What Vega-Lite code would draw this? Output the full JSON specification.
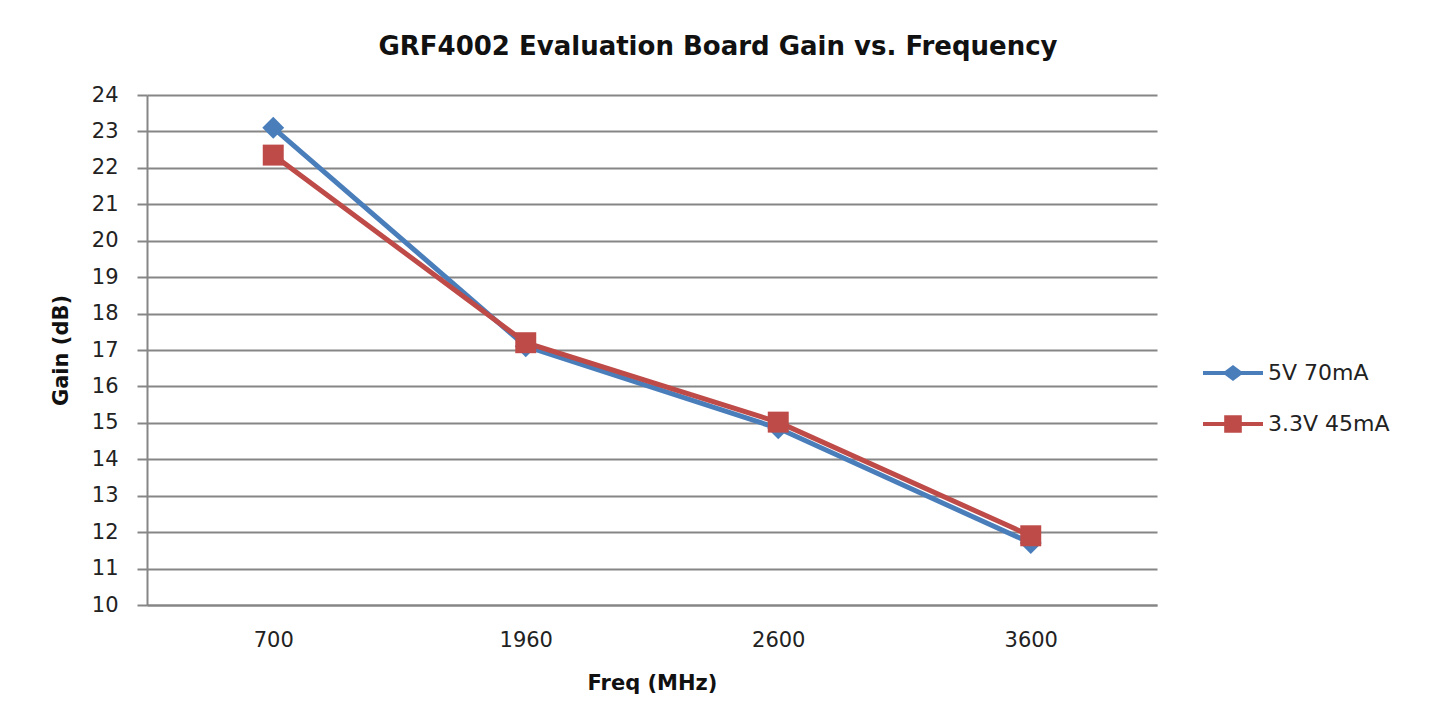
{
  "$schema": "https://vega.github.io/schema/vega-lite/v6.json",
  "width": 1010,
  "height": 510,
  "autosize": {"type": "none"},
  "padding": {"left": 147, "top": 95, "right": 280, "bottom": 123},
  "background": "white",
  "config": {
    "view": {"stroke": null},
    "font": "DejaVu Sans"
  },
  "title": {
    "text": "GRF4002 Evaluation Board Gain vs. Frequency",
    "font": "DejaVu Sans",
    "fontSize": 26,
    "fontWeight": "bold",
    "color": "#111111",
    "anchor": "middle",
    "dx": 66,
    "dy": 12,
    "offset": 36
  },
  "data": {
    "values": [
      {"freq": "700", "series": "5V 70mA", "gain": 23.1},
      {"freq": "1960", "series": "5V 70mA", "gain": 17.1},
      {"freq": "2600", "series": "5V 70mA", "gain": 14.85},
      {"freq": "3600", "series": "5V 70mA", "gain": 11.7},
      {"freq": "700", "series": "3.3V 45mA", "gain": 22.35},
      {"freq": "1960", "series": "3.3V 45mA", "gain": 17.2},
      {"freq": "2600", "series": "3.3V 45mA", "gain": 15.02},
      {"freq": "3600", "series": "3.3V 45mA", "gain": 11.9}
    ]
  },
  "encoding": {
    "x": {
      "field": "freq",
      "type": "ordinal",
      "sort": ["700", "1960", "2600", "3600"],
      "scale": {"type": "point", "padding": 0.5},
      "axis": {
        "title": "Freq (MHz)",
        "titleFont": "DejaVu Sans",
        "titleFontSize": 21,
        "titleFontWeight": "bold",
        "titleColor": "#111111",
        "titlePadding": 22,
        "labelFont": "DejaVu Sans",
        "labelFontSize": 21,
        "labelColor": "#222222",
        "labelAngle": 0,
        "labelPadding": 24,
        "ticks": false,
        "domain": true,
        "domainColor": "#868686",
        "domainWidth": 2,
        "grid": false
      }
    },
    "y": {
      "field": "gain",
      "type": "quantitative",
      "scale": {"domain": [10, 24], "nice": false, "zero": false},
      "axis": {
        "title": "Gain (dB)",
        "titleFont": "DejaVu Sans",
        "titleFontSize": 21,
        "titleFontWeight": "bold",
        "titleColor": "#111111",
        "titlePadding": 20,
        "labelFont": "DejaVu Sans",
        "labelFontSize": 21,
        "labelColor": "#222222",
        "labelPadding": 19,
        "labelOverlap": false,
        "values": [10, 11, 12, 13, 14, 15, 16, 17, 18, 19, 20, 21, 22, 23, 24],
        "tickSize": 10,
        "tickColor": "#868686",
        "tickWidth": 2,
        "domainColor": "#868686",
        "domainWidth": 2,
        "gridColor": "#868686",
        "gridWidth": 2,
        "gridOpacity": 1
      }
    },
    "color": {
      "field": "series",
      "type": "nominal",
      "sort": ["5V 70mA", "3.3V 45mA"],
      "scale": {"domain": ["5V 70mA", "3.3V 45mA"], "range": ["#4A7EBB", "#BE4B48"]},
      "legend": {
        "title": null,
        "orient": "none",
        "legendX": 1075,
        "legendY": 267,
        "labelFont": "DejaVu Sans",
        "labelFontSize": 22,
        "labelColor": "#222222",
        "labelOffset": 24,
        "symbolSize": 256,
        "rowPadding": 29,
        "symbolStrokeWidth": 0,
        "encode": {
          "symbols": {
            "update": {
              "shape": {"signal": "datum.value === '5V 70mA' ? 'M-3.75,-0.25L-1,-0.25L0,-1L1,-0.25L3.75,-0.25L3.75,0.25L1,0.25L0,1L-1,0.25L-3.75,0.25Z' : 'M-3.75,-0.25L-1.1,-0.25L-1.1,-1.1L1.1,-1.1L1.1,-0.25L3.75,-0.25L3.75,0.25L1.1,0.25L1.1,1.1L-1.1,1.1L-1.1,0.25L-3.75,0.25Z'"},
              "fill": {"signal": "scale('color', datum.value)"},
              "fillOpacity": {"value": 1},
              "strokeWidth": {"value": 0}
            }
          }
        }
      }
    }
  },
  "layer": [
    {
      "mark": {"type": "line", "strokeWidth": 5}
    },
    {
      "transform": [{"filter": "datum.series === '5V 70mA'"}],
      "mark": {"type": "point", "filled": true, "opacity": 1, "shape": "diamond", "size": 480}
    },
    {
      "transform": [{"filter": "datum.series === '3.3V 45mA'"}],
      "mark": {"type": "point", "filled": true, "opacity": 1, "shape": "square", "size": 440}
    }
  ]
}
